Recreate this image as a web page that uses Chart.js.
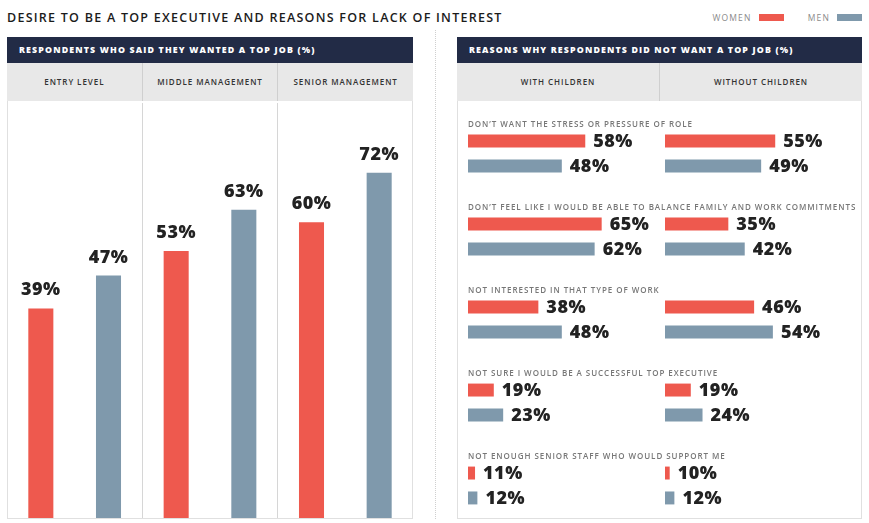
<!DOCTYPE html>
<html>
<head>
<meta charset="utf-8">
<script src="https://cdn.jsdelivr.net/npm/chart.js@4"></script>
<style>
body{margin:0;width:869px;height:523px;overflow:hidden;background:#fff;font-family:"Open Sans",sans-serif;position:relative}
.title{position:absolute;left:7px;top:9px;font-size:12.5px;font-weight:600;letter-spacing:1.25px;color:#1b1b1b;white-space:nowrap}
.legend{position:absolute;top:12px;right:7px;display:flex;align-items:center;font-size:8.5px;letter-spacing:1.2px;color:#8a8a8a}
.legend .sw{display:inline-block;width:25px;height:7px;margin-left:7px}
.legend .gap{width:24px}
.panel{position:absolute;top:37px;height:482px;overflow:hidden}
.head{height:26px;background:#222b46;color:#fff;font-weight:800;font-size:8.8px;letter-spacing:1.15px;line-height:26px;padding-left:12px;white-space:nowrap}
.sub{height:38px;background:#e8e8e8;display:flex}
.sub div{flex:1;text-align:center;line-height:38px;font-size:8px;font-weight:600;color:#333;letter-spacing:0.95px;border-right:1px solid #cfcfcf}
.sub div:last-child{border-right:none}
.frame{position:absolute;top:64px;left:0;right:0;bottom:0;border:1px solid #e0e0e0;border-top:none;pointer-events:none}
.sep{position:absolute;left:435px;top:30px;bottom:4px;border-left:1px dotted #cfcfcf}
canvas{position:absolute;left:0;top:64px}
</style>
</head>
<body>
<div class="title">DESIRE TO BE A TOP EXECUTIVE AND REASONS FOR LACK OF INTEREST</div>
<div class="legend" id="legend"></div>
<div class="sep"></div>

<div class="panel" style="left:7px;width:406px">
  <div class="head">RESPONDENTS WHO SAID THEY WANTED A TOP JOB (%)</div>
  <div class="sub" id="subLeft"></div>
  <canvas id="wantChart" width="406" height="418"></canvas>
  <div class="frame"></div>
</div>

<div class="panel" style="left:457px;width:405px">
  <div class="head">REASONS WHY RESPONDENTS DID NOT WANT A TOP JOB (%)</div>
  <div class="sub" id="subRight"></div>
  <canvas id="reasonChart" width="405" height="430"></canvas>
  <div class="frame"></div>
</div>

<script>
// data
const seriesNames = ['WOMEN', 'MEN'];
const levels = ['ENTRY LEVEL', 'MIDDLE MANAGEMENT', 'SENIOR MANAGEMENT'];
const womenWant = [39, 53, 60];
const menWant = [47, 63, 72];

const groups = ['WITH CHILDREN', 'WITHOUT CHILDREN'];
const reasons = [
  'DON\u2019T WANT THE STRESS OR PRESSURE OF ROLE',
  'DON\u2019T FEEL LIKE I WOULD BE ABLE TO BALANCE FAMILY AND WORK COMMITMENTS',
  'NOT INTERESTED IN THAT TYPE OF WORK',
  'NOT SURE I WOULD BE A SUCCESSFUL TOP EXECUTIVE',
  'NOT ENOUGH SENIOR STAFF WHO WOULD SUPPORT ME'
];
const womenWithChildren = [58, 65, 38, 19, 11];
const menWithChildren = [48, 62, 48, 23, 12];
const womenWithoutChildren = [55, 35, 46, 19, 10];
const menWithoutChildren = [49, 42, 54, 24, 12];

const colors = ['#ee594e', '#7f99ac'];
const numFont = '800 18px "Open Sans"';

// legend + column headers
document.getElementById('legend').innerHTML = seriesNames.map((s, i) =>
  (i ? '<span class="gap"></span>' : '') + '<span>' + s + '</span><span class="sw" style="background:' + colors[i] + '"></span>'
).join('');
document.getElementById('subLeft').innerHTML = levels.map(l => '<div>' + l + '</div>').join('');
document.getElementById('subRight').innerHTML = groups.map(l => '<div>' + l + '</div>').join('');

Chart.defaults.font.family = '"Open Sans", sans-serif';

// value labels on top of the columns
const topLabels = {
  id: 'topLabels',
  afterDatasetsDraw(chart) {
    const ctx = chart.ctx;
    ctx.save();
    ctx.font = numFont;
    ctx.letterSpacing = '0.5px';
    ctx.fillStyle = '#222';
    ctx.textAlign = 'center';
    ctx.textBaseline = 'alphabetic';
    chart.data.datasets.forEach((ds, i) => {
      chart.getDatasetMeta(i).data.forEach((bar, j) => {
        ctx.fillText(ds.data[j] + '%', bar.x, bar.y - 13);
      });
    });
    ctx.restore();
  }
};

const yMinLeft = -12;
new Chart(document.getElementById('wantChart'), {
  type: 'bar',
  data: {
    labels: levels,
    datasets: [
      {label: seriesNames[0], data: womenWant, backgroundColor: colors[0], base: yMinLeft},
      {label: seriesNames[1], data: menWant, backgroundColor: colors[1], base: yMinLeft}
    ]
  },
  options: {
    responsive: false,
    animation: false,
    categoryPercentage: 1,
    barPercentage: 0.37,
    layout: {padding: {top: 2, bottom: 1}},
    scales: {
      x: {
        grid: {color: '#d6d6d6', drawTicks: false},
        border: {display: false},
        ticks: {display: false}
      },
      y: {display: false, min: yMinLeft, max: 89}
    },
    plugins: {legend: {display: false}, tooltip: {enabled: false}}
  },
  plugins: [topLabels]
});

// reason titles and value labels for the horizontal bars
const reasonLabels = {
  id: 'reasonLabels',
  afterDatasetsDraw(chart) {
    const ctx = chart.ctx;
    const yScale = chart.scales.y;
    const band = (yScale.bottom - yScale.top) / reasons.length;
    ctx.save();
    ctx.font = '600 8px "Open Sans"';
    ctx.letterSpacing = '0.95px';
    ctx.fillStyle = '#777';
    ctx.textBaseline = 'alphabetic';
    reasons.forEach((r, i) => {
      ctx.fillText(r, chart.chartArea.left, yScale.getPixelForValue(i) - band / 2 + 15);
    });
    ctx.letterSpacing = '0.5px';
    ctx.font = numFont;
    ctx.fillStyle = '#222';
    ctx.textBaseline = 'middle';
    chart.data.datasets.forEach((ds, i) => {
      chart.getDatasetMeta(i).data.forEach((bar, j) => {
        ctx.fillText(ds.data[j] + '%', bar.x + 8, bar.y + 1);
      });
    });
    ctx.restore();
  }
};

const xMin = 8, xMax = 92;
new Chart(document.getElementById('reasonChart'), {
  type: 'bar',
  data: {
    labels: reasons,
    datasets: [
      {label: seriesNames[0], data: womenWithChildren, backgroundColor: colors[0], xAxisID: 'x', stack: 'women', base: xMin},
      {label: seriesNames[1], data: menWithChildren, backgroundColor: colors[1], xAxisID: 'x', stack: 'men', base: xMin},
      {label: seriesNames[0], data: womenWithoutChildren, backgroundColor: colors[0], xAxisID: 'x2', stack: 'women', base: xMin},
      {label: seriesNames[1], data: menWithoutChildren, backgroundColor: colors[1], xAxisID: 'x2', stack: 'men', base: xMin}
    ]
  },
  options: {
    indexAxis: 'y',
    responsive: false,
    animation: false,
    categoryPercentage: 0.6,
    barPercentage: 0.52,
    layout: {padding: {top: 11, bottom: 4, left: 11, right: 0}},
    scales: {
      y: {display: false},
      x: {display: false, position: 'bottom', stack: 'cols', min: xMin, max: xMax},
      x2: {type: 'linear', display: false, position: 'bottom', stack: 'cols', min: xMin, max: xMax}
    },
    plugins: {legend: {display: false}, tooltip: {enabled: false}}
  },
  plugins: [reasonLabels]
});
</script>
</body>
</html>
